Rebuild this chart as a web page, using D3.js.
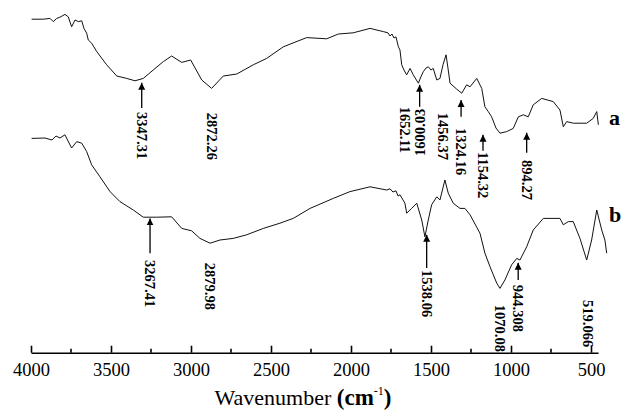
<!DOCTYPE html>
<html>
<head>
<meta charset="utf-8">
<script src="https://cdn.jsdelivr.net/npm/d3@7"></script>
<style>
  body { margin: 0; background: #fff; }
</style>
</head>
<body>
<script>
// spettro a (numero d'onda, trasmittanza in unita' arbitrarie)
var waveA = [3996, 3923, 3881, 3861, 3839, 3819, 3788, 3767, 3746, 3725, 3704, 3683, 3669, 3652, 3642, 3621,
  3589, 3527, 3464, 3402, 3350, 3298, 3236, 3173, 3121, 3058, 3002, 2933, 2871, 2798, 2714, 2611, 2527, 2423,
  2277, 2152, 2079, 1986, 1881, 1798, 1769, 1756, 1744, 1731, 1719, 1704, 1694, 1683, 1669, 1652, 1631, 1611,
  1579, 1563, 1548, 1531, 1517, 1500, 1486, 1464, 1444, 1425, 1406, 1394, 1381, 1339, 1308, 1277, 1256, 1214,
  1183, 1163, 1142, 1121, 1094, 1069, 1027, 986, 954, 923, 892, 861, 808, 736, 694, 673, 652, 611, 527, 486, 464, 454];
var transA = [95.2, 95.2, 95.4, 94.6, 95.4, 95.7, 96.4, 95.8, 93.3, 95, 94.6, 94.8, 92.9, 91.7, 90, 89.2,
  87.1, 83.8, 81, 80.4, 79.8, 80.4, 82.5, 84.6, 86, 84.4, 85, 80, 77.9, 81, 81.5, 83.8, 85.4, 88.3,
  90.6, 90.3, 91.5, 91.8, 92.9, 92.1, 91.8, 91, 91.5, 90.5, 90.8, 88.3, 87.5, 83.8, 82.5, 81.3, 82.9, 81.3,
  79.2, 80.8, 82.1, 83, 83.3, 82.5, 82.9, 80, 80.4, 83.8, 86.3, 83, 79.2, 77.7, 76.7, 78.8, 78.3, 80.4,
  77.9, 73.3, 72.1, 70.8, 68, 66.7, 67.1, 67.9, 70.8, 71.3, 70.8, 73.8, 75.4, 74.6, 72.5, 68.3, 69.6, 69.2, 69.2, 70.4, 72.1, 68.8];

// spettro b
var waveB = [3996, 3913, 3869, 3844, 3819, 3788, 3746, 3714, 3683, 3652, 3621, 3569, 3506, 3444, 3361, 3298,
  3214, 3121, 3058, 2996, 2944, 2881, 2819, 2736, 2652, 2548, 2444, 2361, 2256, 2111, 2006, 1881, 1777, 1756,
  1738, 1719, 1706, 1694, 1663, 1652, 1621, 1589, 1558, 1538, 1517, 1496, 1464, 1444, 1413, 1392, 1361, 1319,
  1288, 1256, 1194, 1163, 1131, 1089, 1069, 1038, 996, 964, 944, 902, 861, 798, 694, 673, 642, 611, 569, 527,
  496, 464, 433, 413, 402];
var transB = [65.4, 65.5, 65, 66, 65.5, 66.3, 63, 64.6, 64.2, 62.1, 58.8, 55.8, 52.1, 49.6, 47.5, 45.7,
  45.7, 45.8, 42.9, 42.3, 40.4, 39.2, 40, 40.4, 41.3, 42.9, 44.2, 45.4, 47.9, 50.4, 52.1, 53.3, 52.5, 52.8,
  52, 52.3, 51, 51.3, 49.2, 46.7, 47.9, 49.2, 45, 40.8, 45, 48.8, 50.8, 50, 55, 51.7, 49.2, 47.9,
  47.9, 46.3, 41.7, 36.7, 33.3, 29.2, 27.9, 30, 33.8, 35.4, 35, 38.3, 42.5, 45.4, 45.4, 43.8, 44.6, 44.6, 40.4, 35,
  40, 47.5, 42.5, 40, 36.7];

// etichette dei picchi: testo, posizione, punta/coda della freccia, inizio del testo
var peakLabels = ["3347.31", "2872.26", "1652.11", "1600.03", "1456.37", "1324.16", "1154.32", "894.27",
  "3267.41", "2879.98", "1538.06", "1070.08", "944.308", "519.066"];
var peakWave = [3308, 2871, 1662, 1571, 1427, 1312, 1175, 902, 3256, 2881, 1527, 1069, 955, 521];
var arrowTip = [79.3, null, null, 78.8, null, 75, 66.3, 66.8, 45.4, null, 41.3, null, 34.3, null];
var arrowTail = [73, null, null, 73.3, null, 70.8, 62.3, 61.8, 36.7, null, 33, null, 30, null];
var labelTop = [72, 71.8, 73.3, 72.8, 71.8, 68, 62, 60, 35, 34.3, 32.5, 23.8, 28.8, 25];
var labelFlip = [false, false, false, true, false, false, false, false, false, false, false, false, false, false];

var majorTicks = [4000, 3500, 3000, 2500, 2000, 1500, 1000, 500];
var minorTicks = [3750, 3250, 2750, 2250, 1750, 1250, 750];

var width = 623, height = 411;
var serif = "Liberation Serif";

var svg = d3.select("body").append("svg")
  .attr("width", width)
  .attr("height", height);

// scale
var xScale = d3.scaleLinear().domain([4000, 400]).range([31, 607]);
var yScale = d3.scaleLinear().domain([0, 100]).range([400, 0]);
var xAxisScale = xScale.copy().domain([4000, 456]).range([xScale(4000), xScale(456)]);
var axisY = 352.7;

var marker = svg.append("defs").append("marker")
  .attr("id", "freccia")
  .attr("viewBox", "0 0 10 10")
  .attr("refX", 10).attr("refY", 5)
  .attr("markerWidth", 7).attr("markerHeight", 9)
  .attr("markerUnits", "userSpaceOnUse")
  .attr("orient", "auto");
marker.append("path").attr("d", "M0,0 L10,5 L0,10 Z").attr("fill", "#000");

// curve
var line = d3.line()
  .x(function (d) { return xScale(d[0]); })
  .y(function (d) { return yScale(d[1]); });

var seriesA = d3.zip(waveA, transA);
var seriesB = d3.zip(waveB, transB);

svg.selectAll("path.spettro")
  .data([seriesA, seriesB])
  .enter()
  .append("path")
  .attr("class", "spettro")
  .attr("d", line)
  .attr("fill", "none")
  .attr("stroke", "#111")
  .attr("stroke-width", 1);

// lettere delle serie
svg.append("text")
  .attr("x", xScale(400) + 2).attr("y", yScale(68.8))
  .attr("font-family", serif)
  .attr("font-size", 22).attr("font-weight", "bold")
  .text("a");
svg.append("text")
  .attr("x", xScale(400) + 2).attr("y", yScale(44.5))
  .attr("font-family", serif)
  .attr("font-size", 22).attr("font-weight", "bold")
  .text("b");

// frecce e etichette
var peaks = peakLabels.map(function (t, i) {
  return { text: t, wn: peakWave[i], tip: arrowTip[i], tail: arrowTail[i], top: labelTop[i], flip: labelFlip[i] };
});

svg.selectAll("line.freccia")
  .data(peaks.filter(function (d) { return d.tip !== null; }))
  .enter()
  .append("line")
  .attr("class", "freccia")
  .attr("x1", function (d) { return xScale(d.wn); })
  .attr("x2", function (d) { return xScale(d.wn); })
  .attr("y1", function (d) { return yScale(d.tail); })
  .attr("y2", function (d) { return yScale(d.tip); })
  .attr("stroke", "#000")
  .attr("stroke-width", 1.3)
  .attr("marker-end", "url(#freccia)");

svg.selectAll("text.picco")
  .data(peaks)
  .enter()
  .append("text")
  .attr("class", "picco")
  .attr("transform", function (d) {
    return "translate(" + xScale(d.wn) + "," + yScale(d.top) + ") rotate(" + (d.flip ? -90 : 90) + ")";
  })
  .attr("text-anchor", function (d) { return d.flip ? "end" : "start"; })
  .attr("dy", "0.35em")
  .attr("font-family", serif)
  .attr("font-size", 14.5)
  .attr("font-weight", "bold")
  .text(function (d) { return d.text; });

// asse x
var xAxis = d3.axisBottom(xAxisScale)
  .tickValues(majorTicks)
  .tickSize(-7)
  .tickSizeOuter(0)
  .tickPadding(10.5)
  .tickFormat(d3.format("d"));

var gx = svg.append("g")
  .attr("transform", "translate(0," + axisY + ")")
  .call(xAxis);
gx.select(".domain").attr("stroke-width", 1.6);
gx.selectAll(".tick line").attr("stroke-width", 1.6);
gx.selectAll(".tick text")
  .attr("font-family", serif)
  .attr("font-weight", "400")
  .attr("font-size", 18.5)
  .attr("fill", "#000");

gx.selectAll("line.minore")
  .data(minorTicks)
  .enter()
  .append("line")
  .attr("class", "minore")
  .attr("x1", function (d) { return xAxisScale(d); })
  .attr("x2", function (d) { return xAxisScale(d); })
  .attr("y1", 0).attr("y2", -4)
  .attr("stroke", "#000")
  .attr("stroke-width", 1.6);

// titolo asse
var title = svg.append("text")
  .attr("x", 303).attr("y", 405)
  .attr("text-anchor", "middle")
  .attr("font-family", serif)
  .attr("font-weight", "400")
  .attr("font-size", 22);
title.append("tspan").text("Wavenumber ");
title.append("tspan").attr("font-weight", "bold").attr("font-size", 23).text("(cm");
title.append("tspan").attr("font-size", 12).attr("dy", -10).text("-1");
title.append("tspan").attr("font-weight", "bold").attr("font-size", 23).attr("dy", 10).text(")");
</script>
</body>
</html>
